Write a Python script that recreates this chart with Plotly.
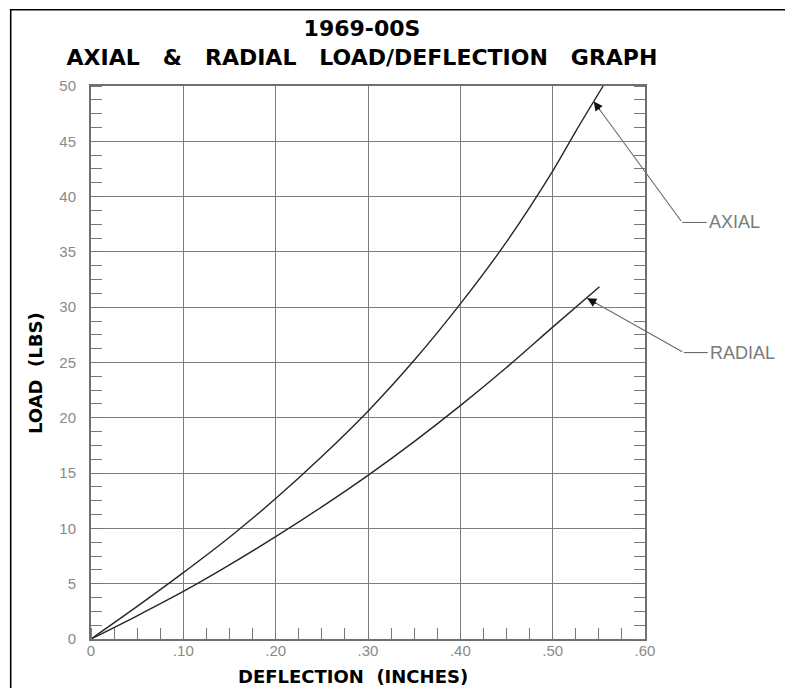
import plotly.graph_objects as go

# ---- data ----
axial_x = [0, 0.05, 0.10, 0.15, 0.20, 0.25, 0.30, 0.35, 0.40, 0.45, 0.50, 0.525, 0.5547]
axial_y = [0, 2.95, 6.0, 9.2, 12.7, 16.5, 20.6, 25.2, 30.3, 35.9, 42.3, 45.9, 50.0]
radial_x = [0, 0.05, 0.10, 0.15, 0.20, 0.25, 0.30, 0.35, 0.40, 0.45, 0.50, 0.5507]
radial_y = [0, 2.1, 4.3, 6.7, 9.25, 11.95, 14.8, 17.85, 21.1, 24.55, 28.2, 31.85]

x_tick_vals = [0, 0.10, 0.20, 0.30, 0.40, 0.50, 0.60]
x_tick_text = ["0", ".10", ".20", ".30", ".40", ".50", ".60"]
y_tick_vals = [0, 5, 10, 15, 20, 25, 30, 35, 40, 45, 50]
y_tick_text = ["0", "5", "10", "15", "20", "25", "30", "35", "40", "45", "50"]

series_names = ["AXIAL", "RADIAL"]
# pointer (arrow tip on curve) and label anchor, in data units
pointer_tip_x = [0.5445, 0.5374]
pointer_tip_y = [48.6, 30.8]
pointer_elbow_x = [0.6403, 0.6420]
label_y = [37.66, 25.9]
label_x = [0.6670, 0.6680]

NB = "\u00a0"
title_line1 = "1969-00S"
title_line2 = (NB * 3).join(["AXIAL", "&", "RADIAL", "LOAD/DEFLECTION", "GRAPH"])
x_title = "DEFLECTION" + NB * 2 + "(INCHES)"
y_title = "LOAD" + NB * 2 + "(LBS)"

X_RANGE = [0, 0.6]
Y_RANGE = [0, 50]

OFF = 8  # browser body margin
W, H = 785, 680
ML, MT = 83, 78
PW, PH = 554, 553
MR, MB = W - ML - PW, H - MT - PH


def xpaper(px):  # px in page coordinates
    return (px - OFF - ML) / PW


def ypaper(py):
    return 1 - (py - OFF - MT) / PH


def data_to_xpaper(x):
    return (x - X_RANGE[0]) / (X_RANGE[1] - X_RANGE[0])


PX_PER_X = PW / (X_RANGE[1] - X_RANGE[0])
PX_PER_Y = PH / (Y_RANGE[1] - Y_RANGE[0])

CURVE = "#262626"
GRID = "#7d7d7d"
TICKC = "#8a8a8a"
TFONT = "DejaVu Sans, Arial, sans-serif"
NFONT = "Liberation Sans Narrow, Liberation Sans, Arial, sans-serif"

fig = go.Figure()
for xs, ys, nm in [(axial_x, axial_y, series_names[0]), (radial_x, radial_y, series_names[1])]:
    fig.add_trace(go.Scatter(x=xs, y=ys, mode="lines", name=nm,
                             line=dict(color=CURVE, width=1.4, shape="spline", smoothing=0.8),
                             showlegend=False))

shapes = []
annotations = []

# outer frame
shapes.append(dict(type="rect", xref="paper", yref="paper",
                   x0=xpaper(10.7), x1=xpaper(787.3), y0=ypaper(720), y1=ypaper(9.7),
                   line=dict(color="black", width=1.6), fillcolor="rgba(0,0,0,0)", layer="above"))

for i, name in enumerate(series_names):
    # grey leader from elbow to the curve
    annotations.append(dict(x=pointer_tip_x[i], y=pointer_tip_y[i], xref="x", yref="y",
                            ax=pointer_elbow_x[i], ay=label_y[i], axref="x", ayref="y",
                            text="", showarrow=True, arrowhead=0,
                            arrowwidth=1.1, arrowcolor="#6a6a6a", standoff=0, startstandoff=0))
    # black arrowhead
    dxp = (pointer_elbow_x[i] - pointer_tip_x[i]) * PX_PER_X
    dyp = (label_y[i] - pointer_tip_y[i]) * PX_PER_Y
    ln = (dxp ** 2 + dyp ** 2) ** 0.5
    annotations.append(dict(x=pointer_tip_x[i], y=pointer_tip_y[i], xref="x", yref="y",
                            ax=dxp / ln * 12, ay=-dyp / ln * 12,
                            text="", showarrow=True, arrowhead=2, arrowsize=1.5,
                            arrowwidth=1.2, arrowcolor="#111111", standoff=0, startstandoff=0))
    # horizontal leader
    shapes.append(dict(type="line", xref="paper", yref="y",
                       x0=data_to_xpaper(pointer_elbow_x[i]), x1=data_to_xpaper(label_x[i]),
                       y0=label_y[i], y1=label_y[i],
                       line=dict(color="#6a6a6a", width=1.1)))
    annotations.append(dict(x=data_to_xpaper(label_x[i]), y=label_y[i], xref="paper", yref="y",
                            text=name, showarrow=False, xanchor="left", yanchor="middle",
                            font=dict(family=NFONT, size=18, color="#7a7a7a")))

# axis titles
annotations.append(dict(x=xpaper(353), y=ypaper(676), xref="paper", yref="paper",
                        text=x_title, showarrow=False, xanchor="center", yanchor="middle",
                        font=dict(family=TFONT, size=18, color="black", weight="bold")))
annotations.append(dict(x=xpaper(35), y=ypaper(373), xref="paper", yref="paper",
                        text=y_title, showarrow=False, textangle=-90,
                        xanchor="center", yanchor="middle",
                        font=dict(family=TFONT, size=18, color="black", weight="bold")))

fig.update_layout(
    width=W, height=H,
    margin=dict(l=ML, r=MR, t=MT, b=MB, autoexpand=False),
    paper_bgcolor="white", plot_bgcolor="white",
    title=dict(text=title_line1 + "<br>" + title_line2,
               x=xpaper(362), xanchor="center", xref="paper",
               y=1 - 28 / H, yanchor="top", yref="container",
               font=dict(family=TFONT, size=22, color="black", weight="bold")),
    shapes=shapes, annotations=annotations,
)

fig.update_xaxes(range=X_RANGE, tickvals=x_tick_vals, ticktext=x_tick_text,
                 showgrid=True, gridcolor=GRID, gridwidth=1.2, zeroline=False,
                 showline=True, linecolor="#6f6f6f", linewidth=2, mirror=True,
                 ticks="", ticklabelstandoff=-3,
                 tickfont=dict(family=NFONT, size=15, color=TICKC),
                 minor=dict(dtick=0.025, tick0=0, ticks="inside", ticklen=11,
                            tickwidth=1.3, tickcolor="#777777", showgrid=False))
fig.update_yaxes(range=Y_RANGE, tickvals=y_tick_vals, ticktext=y_tick_text,
                 showgrid=True, gridcolor=GRID, gridwidth=1.2, zeroline=False,
                 showline=True, linecolor="#6f6f6f", linewidth=2, mirror="ticks",
                 ticks="", ticklabelstandoff=10,
                 tickfont=dict(family=NFONT, size=15, color=TICKC),
                 minor=dict(dtick=1.25, tick0=0, ticks="inside", ticklen=11,
                            tickwidth=1.3, tickcolor="#777777", showgrid=False))

fig.write_html("out.html")
